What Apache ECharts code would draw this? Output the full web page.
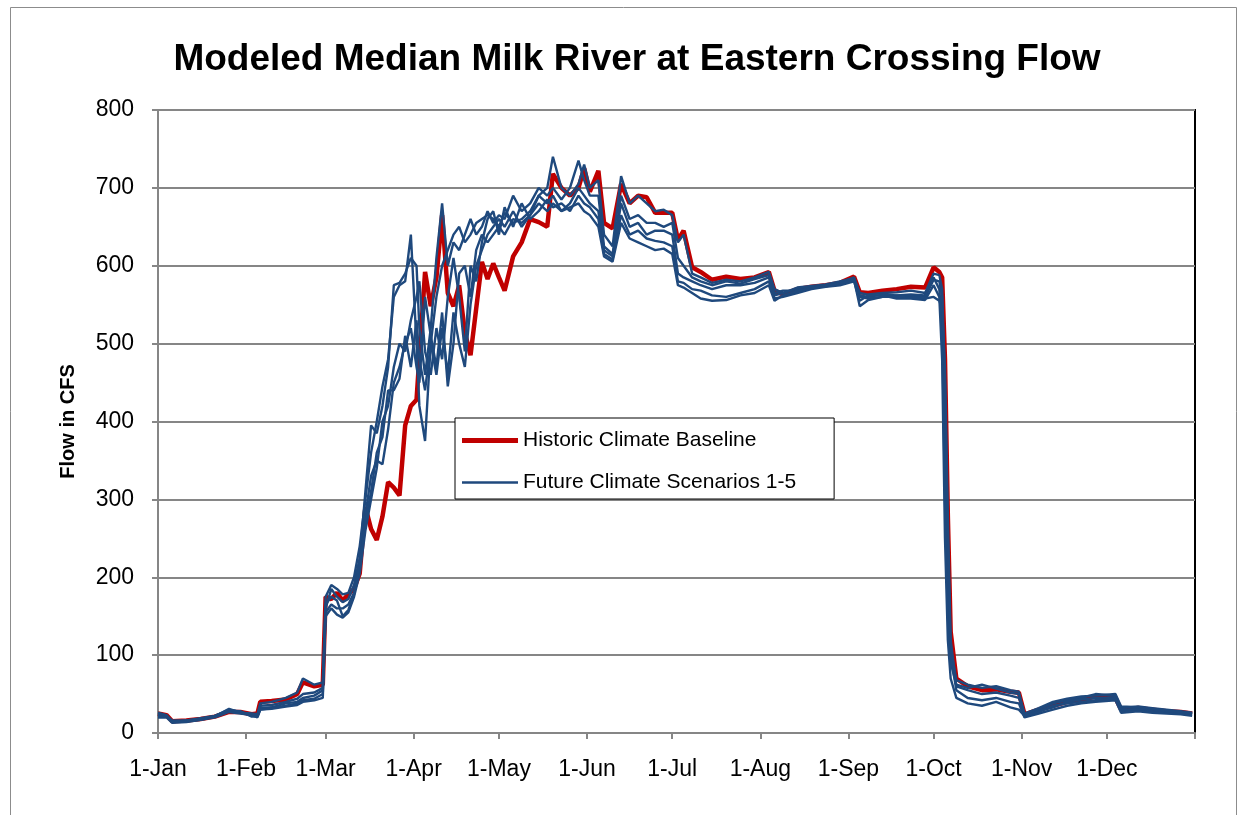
<!DOCTYPE html>
<html>
<head>
<meta charset="utf-8">
<script src="https://cdn.jsdelivr.net/npm/echarts@6/dist/echarts.min.js"></script>
<style>
html,body{margin:0;padding:0;background:#fff;}
#chart{width:1249px;height:815px;}
</style>
</head>
<body>
<div id="chart"></div>
<script>
// Day of year (0 = 1-Jan) at which values were read
var days = [0,3,5,10,15,20,25,29,33,35,36,40,45,49,51,55,58,
59,61,63,65,67,69,71,73,75,77,79,81,83,85,87,89,91,92,94,96,98,100,102,104,106,108,110,112,114,116,118,120,122,125,128,131,134,137,139,142,145,148,150,152,155,157,160,163,166,169,172,175,178,181,183,185,188,191,195,200,205,210,215,217,
220,225,230,235,240,245,247,250,255,260,265,270,273,275,276,277,278,279,281,285,290,295,300,303,305,310,315,320,325,330,337,339,345,350,355,360,364];

var historic = [25,23,15,16,18,21,27,27,24,25,40,41,43,50,65,60,62,
175,172,180,170,178,185,205,290,262,248,278,322,315,305,395,420,
428,483,
592,548,585,665,565,548,575,515,485,545,605,583,603,585,568,
612,630,660,656,650,
718,700,690,700,
725,695,
722,655,
648,705,680,690,688,668,668,668,
633,645,598,592,582,
586,583,585,592,568,
563,570,573,575,578,586,566,565,568,570,573,572,
598,592,585,480,280,130,70,
60,55,56,53,52,24,
30,35,40,42,47,45,30,
32,30,28,27,25];

var scenario1 = [24,22,14,16,18,22,30,27,22,23,38,40,45,52,70,62,65,
175,190,185,178,180,200,240,300,360,400,445,480,560,575,580,640,
500,420,
375,500,560,600,620,640,650,630,640,655,660,665,660,650,668,
655,660,670,690,700,
740,700,690,705,
730,700,
710,640,
625,715,680,690,680,670,672,665,
630,640,590,585,578,
582,580,585,592,570,
565,570,573,575,578,585,565,563,565,566,568,565,
590,588,570,450,250,110,68,
62,58,60,55,53,22,
30,38,42,45,50,48,32,
34,32,30,28,26];

var scenario2 = [22,21,15,15,17,21,28,26,24,22,32,33,38,40,45,48,55,
160,185,175,168,172,190,225,310,395,385,420,470,575,578,590,610,
600,520,
460,520,610,680,600,630,620,640,660,640,650,670,655,665,660,
690,670,680,700,690,
700,685,700,735,
710,690,
690,625,
615,690,660,665,655,655,650,655,
610,600,585,580,575,
580,577,583,588,565,
568,568,572,574,576,583,562,560,563,562,563,562,
585,570,520,300,150,90,62,
58,62,57,52,50,25,
28,33,40,43,45,46,28,
30,28,27,25,24];

var scenario3 = [20,20,13,14,17,20,27,25,23,20,30,32,35,38,42,44,50,
155,165,160,160,165,180,210,280,330,350,345,390,450,470,500,520,
470,450,
560,510,470,540,445,500,590,600,560,620,640,630,640,650,640,
660,655,665,690,680,
690,670,680,700,
690,680,
670,620,
612,680,650,655,640,645,645,640,
590,585,580,575,570,
575,575,578,585,562,
565,572,574,576,580,584,560,558,560,562,561,560,
582,580,560,400,200,100,55,
45,42,45,40,38,20,
25,30,35,38,40,42,26,
28,26,25,24,22];

var scenario4 = [21,22,16,16,19,22,29,28,21,21,30,31,34,36,40,42,45,
150,160,152,148,155,175,205,260,300,340,400,420,470,500,490,530,
560,580,
490,460,520,480,560,610,560,490,600,580,630,660,670,640,675,
650,680,660,670,685,
675,680,670,690,
680,675,
660,615,
608,665,640,645,635,632,630,625,
580,578,570,568,562,
560,565,570,580,558,
560,565,570,573,575,580,555,562,562,558,558,556,
575,560,480,250,120,70,45,
38,35,40,33,30,22,
27,35,38,40,42,44,30,
31,30,28,26,25];

var scenario5 = [26,23,14,15,18,21,31,26,25,24,35,36,40,44,50,52,58,
165,175,170,150,158,178,215,270,310,360,380,440,440,455,510,470,
530,480,
440,500,460,520,460,540,500,470,550,600,620,640,650,660,650,
670,650,665,680,670,
680,670,675,680,
670,665,
650,612,
605,655,635,630,625,620,622,615,
575,572,565,558,555,
556,562,565,575,555,
562,567,571,575,577,582,548,556,560,560,559,558,
560,555,545,470,280,120,60,
55,50,52,48,45,25,
32,40,44,47,48,50,34,
33,31,29,27,25];

var monthStarts = [0,31,59,90,120,151,181,212,243,273,304,334];
var monthLabels = ['1-Jan','1-Feb','1-Mar','1-Apr','1-May','1-Jun','1-Jul','1-Aug','1-Sep','1-Oct','1-Nov','1-Dec'];
var yTicks = [0,100,200,300,400,500,600,700,800];

var historicName = 'Historic Climate Baseline';
var futureName = 'Future Climate Scenarios 1-5';

function pairs(vals){ return days.map(function(d,i){ return [d, vals[i]]; }); }

var FONT = "'Liberation Sans', Arial, sans-serif";
var blue = '#1F497D';
var red = '#C00000';

var series = [{
  name: historicName, type: 'line', data: pairs(historic),
  showSymbol: false, symbol: 'none', z: 2,
  lineStyle: {color: red, width: 4.5}, itemStyle: {color: red}
}];
[scenario1, scenario2, scenario3, scenario4, scenario5].forEach(function(s){
  series.push({
    name: futureName, type: 'line', data: pairs(s),
    showSymbol: false, symbol: 'none', z: 3,
    lineStyle: {color: blue, width: 2.4}, itemStyle: {color: blue}
  });
});

var chart = echarts.init(document.getElementById('chart'), null, {renderer: 'canvas'});
chart.setOption({
  animation: false,
  backgroundColor: '#fff',
  title: {
    text: 'Modeled Median Milk River at Eastern Crossing Flow',
    left: 632, top: 36, textAlign: 'center',
    textStyle: {fontFamily: FONT, fontWeight: 'bold', fontSize: 37, color: '#000'}
  },
  graphic: [{
    type: 'rect', z: -10,
    shape: {x: 10.5, y: 7.5, width: 1226, height: 830},
    style: {fill: 'none', stroke: '#8c8c8c', lineWidth: 1}
  }],
  grid: {left: 158, top: 110, right: 54, bottom: 82, show: true, borderColor: '#000', borderWidth: 2, backgroundColor: 'transparent'},
  legend: {
    orient: 'vertical', left: 455, top: 418,
    padding: [12, 38, 6, 7], itemGap: 21,
    itemWidth: 56, itemHeight: 20,
    symbolKeepAspect: true,
    backgroundColor: '#fff', borderColor: '#000', borderWidth: 1,
    textStyle: {fontFamily: FONT, fontSize: 21, color: '#000'},
    data: [
      {name: historicName, icon: 'path://M0,0H56V5H0Z', itemStyle: {color: red, borderWidth: 0}},
      {name: futureName, icon: 'path://M0,0H112V5H0Z', itemStyle: {color: blue, borderWidth: 0}}
    ]
  },
  xAxis: {
    type: 'value', min: 0, max: 365,
    axisLine: {show: true, lineStyle: {color: '#868686', width: 2}},
    axisTick: {show: true, length: 6, lineStyle: {color: '#868686', width: 2}, customValues: monthStarts.concat([365])},
    axisLabel: {
      customValues: monthStarts,
      formatter: function(v){ var i = monthStarts.indexOf(Math.round(v)); return i >= 0 ? monthLabels[i] : ''; },
      fontFamily: FONT, fontSize: 23, color: '#000', margin: 25
    },
    splitLine: {show: false}
  },
  yAxis: {
    type: 'value', min: 0, max: 800, interval: 100,
    name: 'Flow in CFS', nameLocation: 'middle', nameGap: 80, nameRotate: 90,
    nameTextStyle: {fontFamily: FONT, fontWeight: 'bold', fontSize: 20, color: '#000'},
    axisLine: {show: true, lineStyle: {color: '#868686', width: 2}},
    axisTick: {show: true, inside: false, length: 6, lineStyle: {color: '#868686', width: 2}},
    axisLabel: {fontFamily: FONT, fontSize: 23, color: '#000', margin: 24,
      formatter: function(v){ return yTicks.indexOf(v) >= 0 ? String(v) : ''; }},
    splitLine: {show: true, lineStyle: {color: '#868686', width: 2}}
  },
  series: series
});
</script>
</body>
</html>
